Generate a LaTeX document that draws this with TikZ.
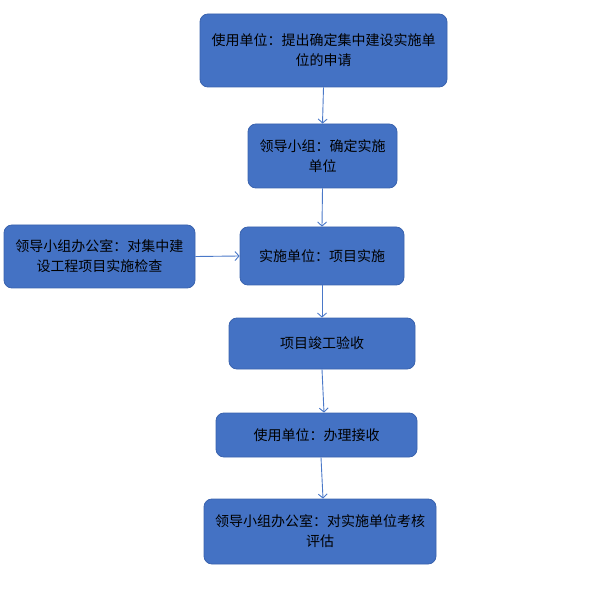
\documentclass[tikz,border=0pt]{standalone}
\usepackage{fontspec}
\setmainfont{Noto Sans CJK SC}
\usetikzlibrary{arrows.meta}
\definecolor{boxfill}{HTML}{4472C4}
\definecolor{boxline}{HTML}{3A63AE}
\definecolor{arrowc}{HTML}{4A78C8}
\tikzset{
  box/.style={draw=boxline, line width=0.8pt, fill=boxfill, rounded corners=8pt,
    inner sep=0pt, align=center, font=\fontsize{14}{20}\selectfont, text=black},
  conn/.style={draw=arrowc, line width=0.9pt, -{Straight Barb[length=4pt,width=9pt]}}
}
\begin{document}
\begin{tikzpicture}[x=1pt,y=-1pt]
\useasboundingbox (0,0) rectangle (614,599);
\node[box, minimum width=247pt, minimum height=73pt] (b1) at (323.5,50.5) {使用单位：提出确定集中建设实施单\\位的申请};
\node[box, minimum width=149pt, minimum height=64pt] (b2) at (322.5,156) {领导小组：确定实施\\单位};
\node[box, minimum width=164pt, minimum height=58pt] (b3) at (322,256) {实施单位：项目实施};
\node[box, minimum width=186pt, minimum height=51pt] (b4) at (322,343.5) {项目竣工验收};
\node[box, minimum width=201pt, minimum height=44pt] (b5) at (316.5,435) {使用单位：办理接收};
\node[box, minimum width=232pt, minimum height=65pt] (b6) at (320,531.5) {领导小组办公室：对实施单位考核\\评估};
\node[box, minimum width=191pt, minimum height=63pt] (bl) at (99.5,256.5) {领导小组办公室：对集中建\\设工程项目实施检查};
\draw[conn] (b1.south) -- (b2.north);
\draw[conn] (b2.south) -- (b3.north);
\draw[conn] (b3.south) -- (b4.north);
\draw[conn] (b4.south) -- ([xshift=7.5pt]b5.north);
\draw[conn] ([xshift=4.5pt]b5.south) -- ([xshift=3pt]b6.north);
\draw[conn] (bl.east) -- (b3.west);
\end{tikzpicture}
\end{document}
